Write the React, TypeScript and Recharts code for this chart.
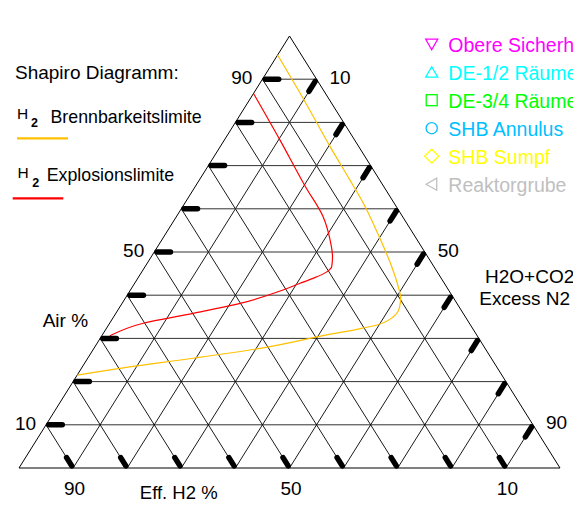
import React from 'react';
import { ComposedChart, XAxis, YAxis, Line, ReferenceLine, ReferenceDot } from 'recharts';

const W = 573;
const H = 509;
const FONT = '"Liberation Sans", Arial, Helvetica, sans-serif';

// grid levels (%)
const gridLevels = [10, 20, 30, 40, 50, 60, 70, 80, 90];

// axis tick labels
const airLabels = [90, 50, 10];      // left edge (horizontal lines, Air %)
const h2Labels = [90, 50, 10];       // bottom edge (Eff. H2 %)
const n2Labels = [10, 50, 90];       // right edge (H2O+CO2 / Excess N2)

// H2 Brennbarkeitslimite (air %, N2 %) ; H2 = 100 - air - N2
const brennbarkeit = [
  { air: 95.6, n2: 0 },
  { air: 85.6, n2: 9.7 },
  { air: 74.4, n2: 20.3 },
  { air: 66.7, n2: 27.8 },
  { air: 61.3, n2: 33.0 },
  { air: 53.2, n2: 40.1 },
  { air: 46.6, n2: 45.6 },
  { air: 42.0, n2: 49.1 },
  { air: 39.3, n2: 50.9 },
  { air: 37.0, n2: 51.8 },
  { air: 35.0, n2: 51.7 },
  { air: 33.1, n2: 49.6 },
  { air: 32.1, n2: 46.4 },
  { air: 30.8, n2: 41.5 },
  { air: 27.7, n2: 30.7 },
  { air: 25.4, n2: 19.5 },
  { air: 23.3, n2: 8.2 },
  { air: 21.5, n2: 0 },
];

// H2 Explosionslimite (air %, N2 %)
const explosion = [
  { air: 86.7, n2: 0 },
  { air: 75.9, n2: 10.3 },
  { air: 65.1, n2: 20.4 },
  { air: 58.2, n2: 27.1 },
  { air: 52.8, n2: 31.1 },
  { air: 48.9, n2: 33.5 },
  { air: 46.6, n2: 34.5 },
  { air: 45.4, n2: 34.2 },
  { air: 43.9, n2: 32.4 },
  { air: 42.7, n2: 30.5 },
  { air: 41.2, n2: 28.2 },
  { air: 38.1, n2: 21.8 },
  { air: 35.8, n2: 14.3 },
  { air: 33.5, n2: 6.2 },
  { air: 30.6, n2: 1.5 },
];

const legendNames = ['Obere Sicherheitsgrenze', 'DE-1/2 Räume', 'DE-3/4 Räume', 'SHB Annulus', 'SHB Sumpf', 'Reaktorgrube'];
const legendColors = ['#FF00FF', '#00FFFF', '#00FF00', '#00BFFF', '#FFFF00', '#C0C0C0'];
const legendShapes = ['triDown', 'triUp', 'square', 'circle', 'diamond', 'triLeft'];

// ternary -> cartesian (data space 0..100)
const toXY = (air: number, n2: number) => ({ x: n2 + air / 2, y: air });

const orangeData = brennbarkeit.map((p) => toXY(p.air, p.n2));
const redData = explosion.map((p) => toXY(p.air, p.n2));

function Marker({ shape, cx, cy, color }: { shape: string; cx: number; cy: number; color: string }) {
  const s = 6;
  const common = { fill: 'none', stroke: color, strokeWidth: 1.3 };
  switch (shape) {
    case 'triDown':
      return <polygon points={`${cx - s},${cy - 5} ${cx + s},${cy - 5} ${cx},${cy + 5.5}`} {...common} />;
    case 'triUp':
      return <polygon points={`${cx - s},${cy + 5} ${cx + s},${cy + 5} ${cx},${cy - 5.5}`} {...common} />;
    case 'square':
      return <rect x={cx - 5.5} y={cy - 5.5} width={11} height={11} {...common} />;
    case 'circle':
      return <circle cx={cx} cy={cy} r={5.6} {...common} />;
    case 'diamond':
      return <polygon points={`${cx},${cy - 7} ${cx + 7},${cy} ${cx},${cy + 7} ${cx - 7},${cy}`} {...common} />;
    default:
      return <polygon points={`${cx + 5},${cy - 6} ${cx + 5},${cy + 6} ${cx - 5.5},${cy}`} {...common} />;
  }
}

const labelShape = (text: string, dx: number, dy: number, anchor: string) => (p: any) => (
  <text x={p.cx + dx} y={p.cy + dy} textAnchor={anchor} fontSize={19} fontFamily={FONT} fill="#000">
    {text}
  </text>
);

export default function App() {
  const gridLines: any[] = [];
  gridLevels.forEach((k) => {
    gridLines.push(
      <ReferenceLine key={`ha${k}`} ifOverflow="visible" segment={[{ x: k / 2, y: k }, { x: 100 - k / 2, y: k }]} stroke="#333" strokeWidth={1} />
    );
    gridLines.push(
      <ReferenceLine key={`hh${k}`} ifOverflow="visible" segment={[{ x: 100 - k, y: 0 }, { x: (100 - k) / 2, y: 100 - k }]} stroke="#000" strokeWidth={0.9} />
    );
    gridLines.push(
      <ReferenceLine key={`hn${k}`} ifOverflow="visible" segment={[{ x: k, y: 0 }, { x: k + (100 - k) / 2, y: 100 - k }]} stroke="#000" strokeWidth={0.9} />
    );
  });

  const ticks: any[] = [];
  gridLevels.forEach((k) => {
    ticks.push(
      <ReferenceLine key={`ta${k}`} ifOverflow="visible" segment={[{ x: k / 2 + 0.5, y: k }, { x: k / 2 + 3.0, y: k }]} stroke="#000" strokeWidth={5.5} strokeLinecap="round" />
    );
    ticks.push(
      <ReferenceLine key={`th${k}`} ifOverflow="visible" segment={[{ x: 100 - k - 0.25, y: 0.5 }, { x: 100 - k - 1.2, y: 2.4 }]} stroke="#000" strokeWidth={5.5} strokeLinecap="round" />
    );
    ticks.push(
      <ReferenceLine key={`tn${k}`} ifOverflow="visible" segment={[{ x: k + (100 - k - 0.5) / 2, y: 100 - k - 0.5 }, { x: k + (100 - k - 2.8) / 2, y: 100 - k - 2.8 }]} stroke="#000" strokeWidth={5.5} strokeLinecap="round" />
    );
  });

  const border = [
    <ReferenceLine key="b1" ifOverflow="visible" segment={[{ x: 0, y: 0 }, { x: 100, y: 0 }]} stroke="#000" strokeWidth={1} />,
    <ReferenceLine key="b2" ifOverflow="visible" segment={[{ x: 0, y: 0 }, { x: 50, y: 100 }]} stroke="#000" strokeWidth={1} />,
    <ReferenceLine key="b3" ifOverflow="visible" segment={[{ x: 100, y: 0 }, { x: 50, y: 100 }]} stroke="#000" strokeWidth={1} />,
  ];

  const labels: any[] = [];
  airLabels.forEach((v) => {
    labels.push(
      <ReferenceDot key={`la${v}`} ifOverflow="visible" x={v / 2} y={v} r={0} shape={labelShape(String(v), -10, 5, 'end')} />
    );
  });
  h2Labels.forEach((v) => {
    labels.push(
      <ReferenceDot key={`lh${v}`} ifOverflow="visible" x={100 - v} y={0} r={0} shape={labelShape(String(v), 1.5, 27, 'middle')} />
    );
  });
  n2Labels.forEach((v) => {
    labels.push(
      <ReferenceDot key={`ln${v}`} ifOverflow="visible" x={v + (100 - v) / 2} y={100 - v} r={0} shape={labelShape(String(v), 13, 4.5, 'start')} />
    );
  });

  return (
    <div style={{ position: 'absolute', left: 0, top: 0, width: W, height: H, background: '#fff', overflow: 'hidden' }}>
      <ComposedChart width={W} height={H} margin={{ top: 36, right: 13, bottom: 41, left: 19 }}>
        <XAxis type="number" dataKey="x" domain={[0, 100]} hide allowDataOverflow />
        <YAxis type="number" dataKey="y" domain={[0, 100]} hide allowDataOverflow />
        {gridLines}
        {border}
        <Line data={orangeData} dataKey="y" type="monotoneY" stroke="#FFC000" strokeWidth={1.2} dot={false} activeDot={false} isAnimationActive={false} />
        <Line data={redData} dataKey="y" type="monotoneY" stroke="#FF0000" strokeWidth={1.2} dot={false} activeDot={false} isAnimationActive={false} />
        {ticks}
        {labels}
      </ComposedChart>
      <svg width={W} height={H} style={{ position: 'absolute', left: 0, top: 0, pointerEvents: 'none' }} fontFamily={FONT}>
        <text x={15} y={78.5} fontSize={19}>Shapiro Diagramm:</text>
        <text x={17} y={118.5} fontSize={15.5}>H</text>
        <text x={31} y={126.5} fontSize={12.5} fontWeight="bold">2</text>
        <text x={50.5} y={123} fontSize={17.8}>Brennbarkeitslimite</text>
        <line x1={17} x2={68} y1={138.3} y2={138.3} stroke="#FFC000" strokeWidth={2.2} />
        <text x={17.5} y={178.3} fontSize={15.5}>H</text>
        <text x={32.3} y={186.5} fontSize={12.5} fontWeight="bold">2</text>
        <text x={46.7} y={180.7} fontSize={17.8}>Explosionslimite</text>
        <line x1={12.7} x2={63.3} y1={198.3} y2={198.3} stroke="#FF0000" strokeWidth={2.2} />

        {legendNames.map((name, i) => {
          const base = 51.7 + 28 * i;
          return (
            <g key={name}>
              <Marker shape={legendShapes[i]} cx={431.7} cy={base - 7.5} color={legendColors[i]} />
              <text x={448.3} y={base} fontSize={19.5} fill={legendColors[i]}>{name}</text>
            </g>
          );
        })}

        <text x={42.7} y={327.3} fontSize={19}>Air %</text>
        <text x={139.8} y={498.5} fontSize={18.5}>Eff. H2 %</text>
        <text x={485} y={283.3} fontSize={19}>H2O+CO2</text>
        <text x={479.3} y={305} fontSize={19}>Excess N2</text>
      </svg>
    </div>
  );
}
